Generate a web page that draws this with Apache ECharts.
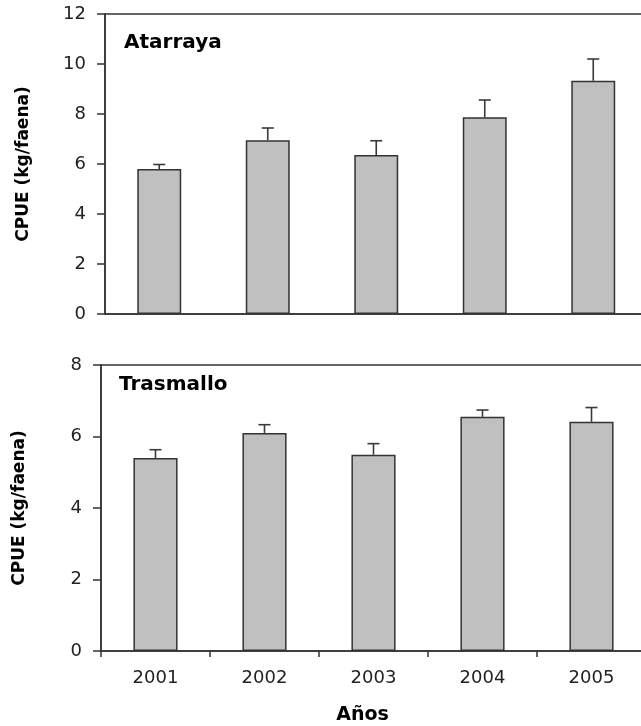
<!DOCTYPE html>
<html>
<head>
<meta charset="utf-8">
<script src="https://cdn.jsdelivr.net/npm/echarts@6/dist/echarts.min.js"></script>
<style>
html,body{margin:0;padding:0;background:#fff;overflow:hidden;}
#c{width:660px;height:726px;}
</style>
</head>
<body>
<div id="c"></div>
<script>
var years = ['2001', '2002', '2003', '2004', '2005'];
var atarraya = [5.8, 6.95, 6.36, 7.87, 9.33];
var atarrayaErr = [0.18, 0.49, 0.57, 0.69, 0.87];
var trasmallo = [5.40, 6.10, 5.49, 6.55, 6.41];
var trasmalloErr = [0.23, 0.23, 0.31, 0.19, 0.40];
var yTicksTop = [0, 2, 4, 6, 8, 10, 12];
var yTicksBottom = [0, 2, 4, 6, 8];
var panelTitles = ['Atarraya', 'Trasmallo'];
var yTitle = 'CPUE (kg/faena)';
var xTitle = 'Años';

var axisColor = '#333';
var chart = echarts.init(document.getElementById('c'), null, {renderer: 'canvas'});

function errData(means, errs) {
  return means.map(function (m, i) { return [i, m, errs[i]]; });
}
function renderErr(params, api) {
  var i = api.value(0), m = api.value(1), e = api.value(2);
  var p0 = api.coord([i, m]);
  var p1 = api.coord([i, m + e]);
  var half = 6;
  var st = {stroke: '#3a3a3a', lineWidth: 1.6};
  return {
    type: 'group',
    children: [
      {type: 'line', shape: {x1: p0[0], y1: p0[1], x2: p1[0], y2: p1[1]}, style: st},
      {type: 'line', shape: {x1: p1[0] - half, y1: p1[1], x2: p1[0] + half, y2: p1[1]}, style: st}
    ]
  };
}

function yAxisCfg(grid, ticks) {
  return {
    gridIndex: grid, type: 'value',
    min: ticks[0], max: ticks[ticks.length - 1], interval: ticks[1] - ticks[0],
    axisLine: {show: true, lineStyle: {color: axisColor, width: 1.5}},
    axisTick: {show: true, length: 8, lineStyle: {color: axisColor, width: 1.5}},
    splitLine: {show: false},
    axisLabel: {margin: 19, fontSize: 18, color: '#222', fontFamily: 'DejaVu Sans'},
    name: yTitle, nameLocation: 'middle', nameGap: 73, nameRotate: 90,
    nameTextStyle: {fontWeight: 'bold', fontSize: 17, color: '#000', fontFamily: 'DejaVu Sans'}
  };
}

var option = {
  animation: false,
  backgroundColor: '#fff',
  textStyle: {fontFamily: 'DejaVu Sans'},
  grid: [
    {left: 105, top: 14, width: 542.5, height: 300, show: true, borderColor: axisColor, borderWidth: 1.5, backgroundColor: 'transparent'},
    {left: 101, top: 365, width: 545, height: 289, show: true, borderColor: axisColor, borderWidth: 1.5, backgroundColor: 'transparent'}
  ],
  xAxis: [
    {gridIndex: 0, type: 'category', data: years,
     axisLine: {show: true, lineStyle: {color: axisColor, width: 1.5}},
     axisTick: {show: false}, axisLabel: {show: false}, splitLine: {show: false}},
    {gridIndex: 1, type: 'category', data: years,
     axisLine: {show: true, lineStyle: {color: axisColor, width: 1.5}},
     axisTick: {show: true, length: 6, interval: 0, lineStyle: {color: axisColor, width: 1.5}},
     axisLabel: {margin: 18, fontSize: 18, color: '#222', fontFamily: 'DejaVu Sans'},
     splitLine: {show: false},
     name: xTitle, nameLocation: 'middle', nameGap: 55,
     nameTextStyle: {fontWeight: 'bold', fontSize: 19, color: '#000', padding: [0, 22, 0, 0], fontFamily: 'DejaVu Sans'}}
  ],
  yAxis: [yAxisCfg(0, yTicksTop), yAxisCfg(1, yTicksBottom)],
  graphic: [
    {type: 'text', left: 124, top: 33, style: {text: panelTitles[0], font: 'bold 20px "DejaVu Sans"', fill: '#000'}},
    {type: 'text', left: 119, top: 375, style: {text: panelTitles[1], font: 'bold 20px "DejaVu Sans"', fill: '#000'}}
  ],
  series: [
    {type: 'bar', xAxisIndex: 0, yAxisIndex: 0, data: atarraya, barWidth: '40.5%',
     itemStyle: {color: '#c0c0c0', borderColor: axisColor, borderWidth: 1.5}},
    {type: 'bar', xAxisIndex: 1, yAxisIndex: 1, data: trasmallo, barWidth: '40.5%',
     itemStyle: {color: '#c0c0c0', borderColor: axisColor, borderWidth: 1.5}},
    {type: 'custom', xAxisIndex: 0, yAxisIndex: 0, data: errData(atarraya, atarrayaErr),
     renderItem: renderErr, z: 5, encode: {x: 0, y: 1}},
    {type: 'custom', xAxisIndex: 1, yAxisIndex: 1, data: errData(trasmallo, trasmalloErr),
     renderItem: renderErr, z: 5, encode: {x: 0, y: 1}}
  ]
};
chart.setOption(option);
</script>
</body>
</html>
